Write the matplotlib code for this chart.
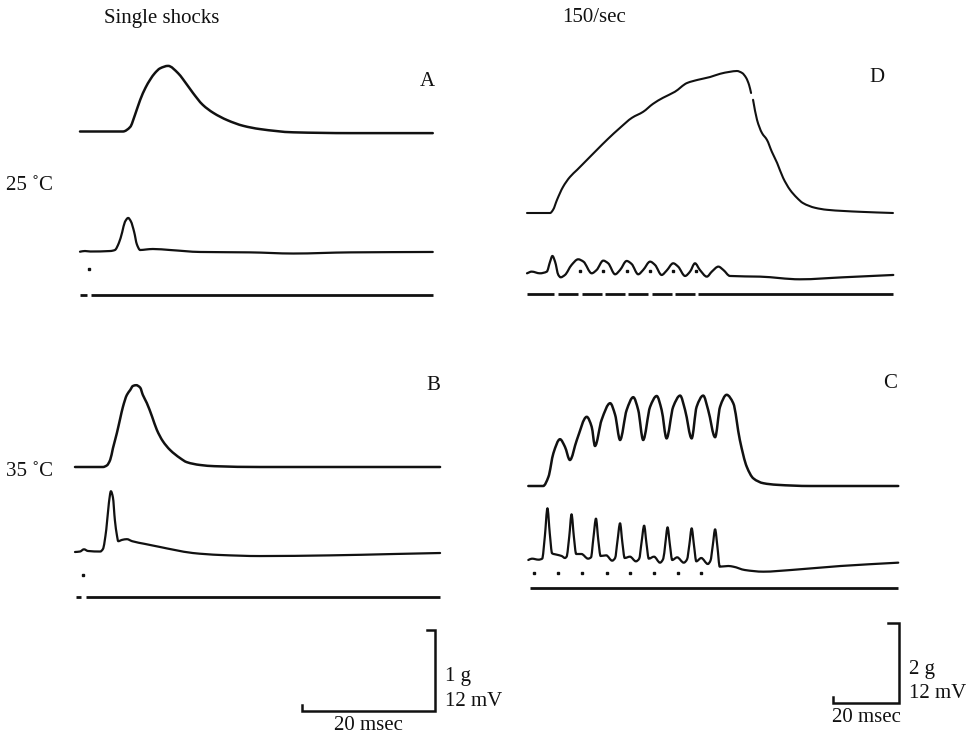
"""
Twitch and tetanus records at 25 and 35 degC: force (upper trace),
EMG (middle trace) and stimulus marker (bottom line) for each panel.
"""
import matplotlib
matplotlib.use("Agg")
import matplotlib.pyplot as plt
from matplotlib.path import Path
from matplotlib.patches import PathPatch
import numpy as np

INK = "#111111"
FONT = ["Liberation Serif", "DejaVu Serif"]
FS = 15

# ---- data: time in msec, force in g, EMG in mV ----------------------------
# A: single shock, 25 C
a_force_t = [0.75, 7.2, 8.3, 9.0, 9.8, 10.6, 11.3, 12.0, 12.8, 14.0, 15.5, 16.2, 17.7, 19.2,
             20.8, 22.9, 25.3, 27.8, 32.8, 41.4, 53.8]
a_force_v = [0.0, 0.0, 0.056, 0.2, 0.39, 0.54, 0.64, 0.72, 0.78, 0.81, 0.72, 0.65, 0.48, 0.33,
             0.23, 0.14, 0.07, 0.03, -0.01, -0.02, -0.02]
a_emg_t = [0.75, 1.5, 2.3, 5.3, 6.0, 6.6, 7.1, 7.5, 8.0, 8.4, 8.9, 9.3, 9.8,
           10.7, 11.7, 14.3, 18.8, 26.3, 32.8, 41.4, 53.8]
a_emg_v = [0.0, 0.1, 0.03, 0.1, 0.25, 1.3, 2.9, 4.4, 5.0, 4.5, 2.9, 1.1, 0.25,
           0.33, 0.4, 0.25, -0.04, -0.1, -0.27, -0.1, -0.04]
a_stim_t = [2.1]
a_line_segments = [(0.75, 1.8), (2.4, 53.8)]

# B: single shock, 35 C
b_force_t = [0.0, 4.2, 4.8, 5.3, 5.7, 6.3, 6.8, 7.2, 7.8, 8.3, 8.7, 9.2, 9.8, 10.2,
             10.8, 11.6, 12.3, 13.2, 14.3, 15.8, 16.8, 18.8, 21.0, 27.8, 54.9]
b_force_v = [0.0, 0.0, 0.02, 0.09, 0.23, 0.42, 0.6, 0.74, 0.89, 0.95, 1.0, 1.01, 0.98, 0.89,
             0.79, 0.62, 0.46, 0.32, 0.21, 0.11, 0.06, 0.025, 0.01, 0.0, 0.0]
b_emg_t = [0.0, 0.75, 1.35, 1.95, 3.8, 4.2, 4.7, 5.1, 5.4, 5.7, 6.0, 6.3, 6.5, 7.1,
           7.8, 8.6, 10.5, 12.8, 15.0, 17.7, 21.8, 27.8, 38.3, 47.8, 54.9]
b_emg_v = [0.0, 0.07, 0.4, 0.15, 0.07, 0.44, 3.3, 7.3, 9.0, 8.1, 4.7, 2.5, 1.6, 1.8,
           1.9, 1.6, 1.2, 0.74, 0.3, -0.15, -0.44, -0.6, -0.5, -0.3, -0.15]
b_stim_t = [1.2]
b_line_segments = [(0.15, 0.9), (1.65, 54.9)]

# D: 150/sec, 25 C
d_force_t = [0.0, 7.0, 7.9, 9.1, 10.9, 13.0, 15.2, 18.2, 21.2, 24.5, 28.2, 31.8, 35.2, 38.2,
             41.2, 44.8, 48.5, 51.8, 55.5, 58.5, 61.5, 63.6, 65.2, 66.4, 67.3, 67.9, np.nan,
             68.5, 69.7, 71.2, 72.7, 74.2, 75.8, 77.6, 79.7, 81.8, 83.6, 87.3, 90.9, 100.9, 110.9]
d_force_v = [0.0, 0.0, 0.08, 0.33, 0.65, 0.9, 1.08, 1.33, 1.58, 1.85, 2.13, 2.38, 2.53, 2.73,
             2.88, 3.03, 3.25, 3.33, 3.4, 3.48, 3.53, 3.55, 3.5, 3.38, 3.2, 3.0, np.nan,
             2.83, 2.33, 2.0, 1.83, 1.53, 1.25, 0.88, 0.58, 0.38, 0.25, 0.13, 0.08, 0.03, 0.0]
d_emg_t = [0.0, 1.4, 3.9, 6.0, 7.0, 7.7, 8.5, 9.5, 10.2, 11.5, 13.5, 15.5, 17.1, 19.6,
           21.1, 23.1, 24.6, 26.7, 28.2, 30.2, 31.7, 33.7, 35.2, 37.3, 38.8, 40.8,
           42.3, 44.3, 45.8, 47.9, 49.4, 50.9, 52.4, 54.5, 56.0, 58.0, 59.5, 61.5,
           70.6, 82.7, 95.8, 111.0]
d_emg_v = [0.0, 0.25, 0.0, 0.25, 1.75, 2.6, 1.75, -0.25, -0.6, -0.25, 1.25, 2.1, 1.75, 0.0,
           0.5, 1.9, 1.5, -0.15, 0.5, 1.85, 1.4, -0.15, 0.5, 1.75, 1.25, -0.25,
           0.4, 1.5, 1.0, -0.4, 0.25, 1.5, 0.5, -0.5, 0.25, 1.0, 0.5, -0.4,
           -0.5, -0.9, -0.6, -0.25]
d_stim_t = [16.1, 23.1, 30.2, 37.3, 44.3, 51.1]
d_line_segments = [(0.0, 8.1), (9.5, 15.5), (16.6, 22.6), (23.6, 29.7), (30.7, 36.8),
                   (37.8, 43.9), (44.8, 50.9), (51.9, 111.0)]

# C: 150/sec, 35 C
c_force_t = [0.4, 4.9, 6.5, 8.0, 10.0, 11.5, 13.0, 15.1, 18.1, 19.6,
             20.6, 22.6, 25.2, 26.7, 28.2, 30.2, 32.2, 33.7, 35.2, 37.3, 39.3,
             40.8, 42.3, 44.3, 46.4, 47.9, 49.9, 51.4, 53.4, 54.9, 57.0,
             58.5, 60.5, 62.5, 64.5, 66.6, 68.6, 71.6, 75.7, 85.8, 112.5]
c_force_v = [0.0, 0.0, 0.23, 0.82, 1.17, 0.98, 0.65, 1.15, 1.73, 1.48,
             1.0, 1.65, 2.07, 1.78, 1.15, 1.9, 2.22, 1.9, 1.15, 1.98, 2.25,
             1.9, 1.19, 1.98, 2.26, 1.9, 1.19, 1.98, 2.26, 1.9, 1.22,
             1.98, 2.28, 2.07, 1.15, 0.48, 0.19, 0.07, 0.03, 0.0, 0.0]
c_emg_t = [0.4, 1.5, 3.5, 4.6, 5.4, 6.2, 6.9, 7.6, 9.0, 10.5, 11.5, 12.0, 12.8, 13.5, 14.2,
           14.9, 16.5, 18.5, 19.4, 20.1, 20.9, 21.6, 22.3, 24.0, 25.8, 26.7, 27.4, 28.2,
           28.9, 29.6, 31.2, 33.0, 34.0, 34.7, 35.5, 36.2, 36.9, 38.5, 40.3, 41.3, 41.9,
           42.6, 43.3, 44.0, 45.5, 47.5, 48.5, 49.2, 49.9, 50.6, 51.3, 52.8, 54.8, 55.6,
           56.3, 57.0, 57.7, 58.4, 61.0, 62.5, 66.0, 71.6, 80.0, 95.0, 112.5]
c_emg_v = [0.0, 0.2, 0.05, 0.2, 3.5, 7.75, 4.0, 1.0, 0.8, 0.6, 0.3, 0.5, 3.5, 6.85, 3.5,
           0.9, 0.9, 0.2, 0.4, 3.2, 6.2, 3.0, 0.6, 0.7, -0.1, 0.3, 2.8, 5.5,
           2.6, 0.3, 0.5, -0.2, 0.2, 2.6, 5.15, 2.5, 0.2, 0.5, -0.4, 0.2, 2.4,
           4.9, 2.3, 0.0, 0.4, -0.4, 0.1, 2.3, 4.75, 2.2, -0.2, 0.3, -0.6, -0.1,
           2.2, 4.6, 2.0, -1.0, -0.9, -1.0, -1.5, -1.75, -1.5, -0.9, -0.4]
c_stim_t = [2.1, 9.5, 16.8, 24.2, 31.2, 38.5, 45.7, 52.7]
c_line_segments = [(0.9, 112.5)]

# calibration bars
cal_time_ms = 20
cal_force_left_g = 1
cal_force_right_g = 2
cal_emg_mv = 12

# ---- layout (pixel frame of the 975 x 738 figure) --------------------------
LEFT = dict(x0=75, sx=6.65, sf=81, se=6.75)
RIGHT = dict(x0=527, sx=3.3, sf=40, se=6.67)

fig = plt.figure(figsize=(9.75, 7.38), dpi=100, facecolor="white")
ax = fig.add_axes([0, 0, 1, 1])
ax.set_xlim(0, 975)
ax.set_ylim(738, 0)
ax.axis("off")


def smooth_path(x, y):
    """Bezier path through every reading, monotone (PCHIP-style) slopes -> no overshoot."""
    x = np.asarray(x, float)
    y = np.asarray(y, float)
    n = len(x)
    if n < 3:
        return Path(np.column_stack([x, y]))
    h = np.diff(x)
    d = np.diff(y) / h
    m = np.zeros(n)
    m[0], m[-1] = d[0], d[-1]
    for i in range(1, n - 1):
        if d[i - 1] * d[i] > 0:
            w1 = 2 * h[i] + h[i - 1]
            w2 = h[i] + 2 * h[i - 1]
            m[i] = (w1 + w2) / (w1 / d[i - 1] + w2 / d[i])
    verts = [(x[0], y[0])]
    codes = [Path.MOVETO]
    for i in range(n - 1):
        k = h[i] / 3
        verts += [(x[i] + k, y[i] + m[i] * k), (x[i + 1] - k, y[i + 1] - m[i + 1] * k),
                  (x[i + 1], y[i + 1])]
        codes += [Path.CURVE4] * 3
    return Path(verts, codes)


def trace(t, v, col, y0, scale, lw=1.7):
    x = col["x0"] + col["sx"] * np.asarray(t, dtype=float)
    y = y0 - scale * np.asarray(v, dtype=float)
    breaks = np.where(np.isnan(x))[0]
    for xs, ys in zip(np.split(x, breaks), np.split(y, breaks)):
        ok = ~np.isnan(xs)
        ax.add_patch(PathPatch(smooth_path(xs[ok], ys[ok]), fill=False, edgecolor=INK,
                               lw=lw, joinstyle="round", capstyle="round"))


def stim(times, segments, col, y_dot, y_line):
    x = col["x0"] + col["sx"] * np.asarray(times)
    ax.plot(x, np.full(len(x), y_dot), ls="none", marker="s", ms=1.9, color=INK)
    for t0, t1 in segments:
        ax.plot([col["x0"] + col["sx"] * t0, col["x0"] + col["sx"] * t1], [y_line, y_line],
                color=INK, lw=2.0, solid_capstyle="butt")


def panel(col, force, emg, stims, y_force, y_emg, y_dot, y_line, label, label_xy, lw_f=1.8):
    trace(*force, col, y_force, col["sf"], lw=lw_f)
    trace(*emg, col, y_emg, col["se"], lw=1.6)
    stim(*stims, col, y_dot, y_line)
    ax.text(*label_xy, label, fontsize=FS, family=FONT, ha="center", va="center", color=INK)


panel(LEFT, (a_force_t, a_force_v), (a_emg_t, a_emg_v), (a_stim_t, a_line_segments),
      131.5, 251.7, 269, 295, "A", (427, 82))
panel(LEFT, (b_force_t, b_force_v), (b_emg_t, b_emg_v), (b_stim_t, b_line_segments),
      467, 552, 575, 597, "B", (433, 385))
panel(RIGHT, (d_force_t, d_force_v), (d_emg_t, d_emg_v), (d_stim_t, d_line_segments),
      213, 273.3, 271, 294, "D", (877, 78), lw_f=1.5)
panel(RIGHT, (c_force_t, c_force_v), (c_emg_t, c_emg_v), (c_stim_t, c_line_segments),
      486, 560, 573, 588, "C", (890, 383))


def cal_bar(col, x_right, y_bottom, force_g, tick_left, tick_up, lines):
    w = col["sx"] * cal_time_ms
    h = col["sf"] * force_g
    xs = [x_right - tick_left, x_right, x_right, x_right - w, x_right - w]
    ys = [y_bottom - h, y_bottom - h, y_bottom, y_bottom, y_bottom - tick_up]
    ax.plot(xs, ys, color=INK, lw=1.8, solid_joinstyle="miter")
    ax.text(x_right + 10, y_bottom - h * 0.42, lines[0], fontsize=FS, family=FONT,
            ha="left", va="center", color=INK)
    ax.text(x_right + 10, y_bottom - h * 0.12, lines[1], fontsize=FS, family=FONT,
            ha="left", va="center", color=INK)
    ax.text(x_right - w / 2, y_bottom + 15, f"{cal_time_ms} msec", fontsize=FS, family=FONT,
            ha="center", va="center", color=INK)


cal_bar(LEFT, 435, 711, cal_force_left_g, 8, 6, (f"{cal_force_left_g} g", f"{cal_emg_mv} mV"))
cal_bar(RIGHT, 899, 703, cal_force_right_g, 11, 6, (f"{cal_force_right_g} g", f"{cal_emg_mv} mV"))

ax.text(104, 18, "Single shocks", fontsize=FS, family=FONT, ha="left", va="center", color=INK)
ax.text(562, 18, "150/sec", fontsize=FS, family=FONT, ha="left", va="center", color=INK)
ax.text(6, 186, "25 ˚C", fontsize=FS, family=FONT, ha="left", va="center", color=INK)
ax.text(6, 472, "35 ˚C", fontsize=FS, family=FONT, ha="left", va="center", color=INK)

fig.savefig("out.png", dpi=100, facecolor="white")
plt.close(fig)
